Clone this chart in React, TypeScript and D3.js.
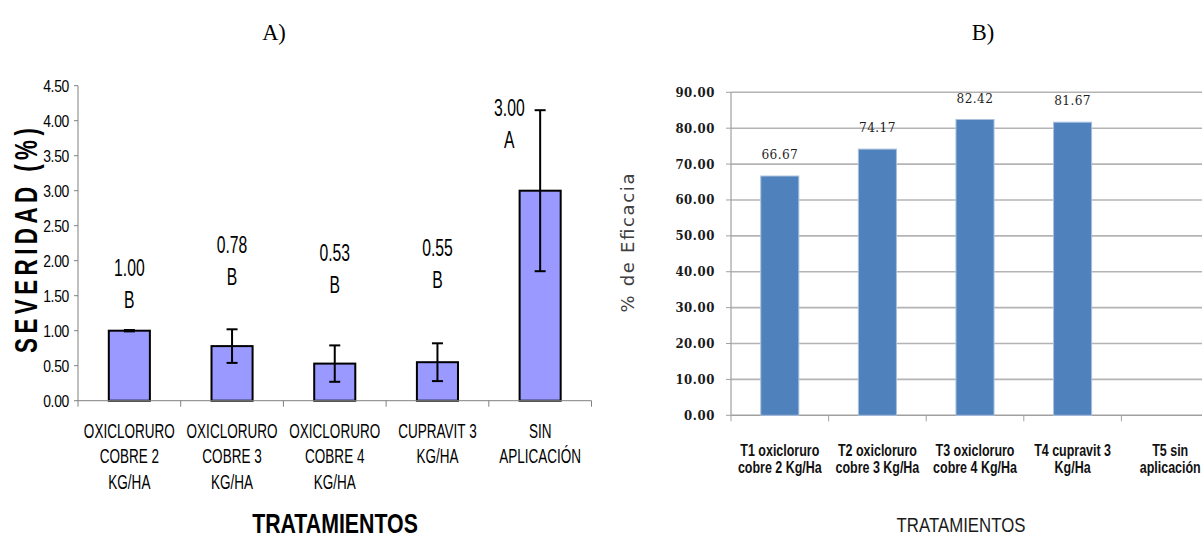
import React from "react";
import * as d3 from "d3";

// ---------- Chart A data ----------
const categoriesA = [
  "OXICLORURO COBRE 2 KG/HA",
  "OXICLORURO COBRE 3 KG/HA",
  "OXICLORURO COBRE 4 KG/HA",
  "CUPRAVIT 3 KG/HA",
  "SIN APLICACIÓN",
];
const categoryLinesA = [
  ["OXICLORURO", "COBRE 2", "KG/HA"],
  ["OXICLORURO", "COBRE 3", "KG/HA"],
  ["OXICLORURO", "COBRE 4", "KG/HA"],
  ["CUPRAVIT 3", "KG/HA"],
  ["SIN", "APLICACIÓN"],
];
const severidad = [1.0, 0.78, 0.53, 0.55, 3.0];
const severidadErr = [0.01, 0.24, 0.26, 0.27, 1.15];
const severidadLetters = ["B", "B", "B", "B", "A"];
const severidadLabelLevel = [1.9, 2.23, 2.11, 2.18, 4.18];
const severidadLabelShift = [0, 0, 0, 0, -0.3];
const ticksA = [0, 0.5, 1, 1.5, 2, 2.5, 3, 3.5, 4, 4.5];

// ---------- Chart B data ----------
const categoriesB = ["T1", "T2", "T3", "T4", "T5"];
const categoryLinesB = [
  ["T1 oxicloruro", "cobre 2 Kg/Ha"],
  ["T2 oxicloruro", "cobre 3 Kg/Ha"],
  ["T3 oxicloruro", "cobre 4 Kg/Ha"],
  ["T4 cupravit 3", "Kg/Ha"],
  ["T5 sin", "aplicación"],
];
const eficacia: (number | null)[] = [66.67, 74.17, 82.42, 81.67, null];
const ticksB = [0, 10, 20, 30, 40, 50, 60, 70, 80, 90];

const SANS = "'Liberation Sans', Arial, sans-serif";
const SERIF_C = "'DejaVu Serif Condensed', 'DejaVu Serif', serif";
const NX = 0.82; // horizontal squeeze to imitate a narrow face

export default function App() {
  const xA = d3.scaleBand<string>().domain(categoriesA).range([78, 591.5]).padding(0);
  const yA = d3.scaleLinear().domain([0, 4.5]).range([400.7, 85.7]);
  const bwA = xA.bandwidth() * 0.4;

  const xB = d3.scaleBand<string>().domain(categoriesB).range([731, 731 + 5 * 97.6]).padding(0);
  const yB = d3.scaleLinear().domain([0, 90]).range([415.3, 92.3]);
  const bwB = xB.bandwidth() * 0.39;

  return (
    <svg
      width={1202}
      height={538}
      style={{ position: "absolute", left: 0, top: 0, background: "#fff" }}
    >
      <rect x={0} y={0} width={1202} height={538} fill="#fff" />
      <text x={274} y={40} textAnchor="middle" fontFamily="'Liberation Serif', 'Times New Roman', serif" fontSize={22.5}>
        A)
      </text>
      <text x={983} y={40} textAnchor="middle" fontFamily="'Liberation Serif', 'Times New Roman', serif" fontSize={22.5}>
        B)
      </text>

      {/* ================= Chart A ================= */}
      <g>
        <line x1={78} x2={78} y1={yA(4.5)} y2={yA(0)} stroke="#808080" strokeWidth={1} />
        {ticksA.map((t) => (
          <g key={t}>
            <line x1={74} x2={78} y1={yA(t)} y2={yA(t)} stroke="#808080" />
            <text
              transform={`translate(69,${yA(t) + 6}) scale(${NX},1)`}
              textAnchor="end"
              fontFamily={SANS}
              fontSize={17}
              letterSpacing={-0.4}
              fill="#000"
            >
              {t.toFixed(2)}
            </text>
          </g>
        ))}
        <text
          transform={`translate(36.5,240.5) rotate(-90) scale(0.8,1.12)`}
          textAnchor="middle"
          fontFamily={SANS}
          fontWeight="bold"
          fontSize={28}
          textLength={281}
          lengthAdjust="spacing"
        >
          SEVERIDAD (%)
        </text>

        {categoriesA.map((c, i) => {
          const cx = (xA(c) as number) + xA.bandwidth() / 2;
          return (
            <rect
              key={c}
              x={cx - bwA / 2}
              y={yA(severidad[i])}
              width={bwA}
              height={yA(0) - yA(severidad[i])}
              fill="#9999ff"
              stroke="#000"
              strokeWidth={2}
            />
          );
        })}
        <line x1={78} x2={591.5} y1={yA(0)} y2={yA(0)} stroke="#808080" strokeWidth={1} />
        {[...categoriesA.map((c) => xA(c) as number), 591.5].map((x, i) => (
          <line key={i} x1={x} x2={x} y1={yA(0)} y2={yA(0) + 6} stroke="#808080" />
        ))}
        {categoriesA.map((c, i) => {
          const cx = (xA(c) as number) + xA.bandwidth() / 2;
          const hi = yA(severidad[i] + severidadErr[i]);
          const lo = yA(severidad[i] - severidadErr[i]);
          return (
            <g key={c} stroke="#000" strokeWidth={2}>
              <line x1={cx} x2={cx} y1={hi} y2={lo} />
              <line x1={cx - 5.5} x2={cx + 5.5} y1={hi} y2={hi} />
              <line x1={cx - 5.5} x2={cx + 5.5} y1={lo} y2={lo} />
            </g>
          );
        })}
        {categoriesA.map((c, i) => {
          const cx = (xA(c) as number) + xA.bandwidth() * (0.5 + severidadLabelShift[i]);
          const cy = yA(severidadLabelLevel[i]);
          return (
            <g key={c} fontFamily={SANS} fontSize={19.2} textAnchor="middle">
              <text transform={`translate(${cx},${cy + 8.3}) scale(${NX},1.21)`}>{severidad[i].toFixed(2)}</text>
              <text transform={`translate(${cx},${cy + 40.3}) scale(${NX},1.21)`}>{severidadLetters[i]}</text>
            </g>
          );
        })}
        {categoriesA.map((c, i) => {
          const cx = (xA(c) as number) + xA.bandwidth() / 2;
          return (
            <g key={c} fontFamily={SANS} fontSize={16.5} textAnchor="middle">
              {categoryLinesA[i].map((ln, j) => (
                <text key={j} transform={`translate(${cx},${438 + j * 25.3}) scale(${NX},1.25)`}>
                  {ln}
                </text>
              ))}
            </g>
          );
        })}
        <text
          transform={`translate(335,533) scale(${NX},1.06)`}
          textAnchor="middle"
          fontFamily={SANS}
          fontWeight="bold"
          fontSize={26}
        >
          TRATAMIENTOS
        </text>
      </g>

      {/* ================= Chart B ================= */}
      <g>
        {ticksB.map((t) => (
          <line
            key={t}
            x1={731}
            x2={1202}
            y1={yB(t)}
            y2={yB(t)}
            stroke={t === 0 ? "#a0a0a0" : "#b4b4b4"}
            strokeWidth={1.6}
          />
        ))}
        <line x1={731} x2={731} y1={yB(90)} y2={yB(0)} stroke="#a0a0a0" strokeWidth={1.2} />
        {ticksB.map((t) => (
          <g key={t}>
            <line x1={726} x2={731} y1={yB(t)} y2={yB(t)} stroke="#a0a0a0" />
            <text
              x={715}
              y={yB(t) + 4.5}
              textAnchor="end"
              fontFamily={SERIF_C}
              fontWeight="bold"
              fontSize={13}
              letterSpacing={0.6}
              fill="#1a1a1a"
            >
              {t.toFixed(2)}
            </text>
          </g>
        ))}
        {categoriesB.map((c) => (
          <line
            key={c}
            x1={xB(c) as number}
            x2={xB(c) as number}
            y1={yB(0)}
            y2={yB(0) + 6}
            stroke="#a0a0a0"
          />
        ))}
        {categoriesB.map((c, i) => {
          const v = eficacia[i];
          if (v == null) return null;
          const cx = (xB(c) as number) + xB.bandwidth() / 2;
          return (
            <g key={c}>
              <rect
                x={cx - bwB / 2}
                y={yB(v)}
                width={bwB}
                height={yB(0) - yB(v)}
                fill="#4f81bd"
                stroke="#a9c0de"
                strokeWidth={1}
              />
              <text
                x={cx}
                y={yB(v) - 17}
                textAnchor="middle"
                fontFamily={SERIF_C}
                fontSize={13.5}
                letterSpacing={0.4}
                fill="#1f1f1f"
              >
                {v.toFixed(2)}
              </text>
            </g>
          );
        })}
        <text
          transform={`translate(634,243) rotate(-90)`}
          textAnchor="middle"
          fontFamily="'DejaVu Sans', Verdana, sans-serif"
          fontSize={18}
          textLength={139}
          lengthAdjust="spacing"
          fill="#404040"
        >
          % de Eficacia
        </text>
        {categoriesB.map((c, i) => {
          const cx = (xB(c) as number) + xB.bandwidth() / 2;
          return (
            <g key={c} fontFamily={SANS} fontWeight="bold" fontSize={16} textAnchor="middle" fill="#111">
              {categoryLinesB[i].map((ln, j) => (
                <text key={j} transform={`translate(${cx},${455.5 + j * 17.5}) scale(0.78,1.05)`}>
                  {ln}
                </text>
              ))}
            </g>
          );
        })}
        <text
          transform={`translate(961,532) scale(${NX},1)`}
          textAnchor="middle"
          fontFamily={SANS}
          fontSize={20.5}
          fill="#1a1a1a"
        >
          TRATAMIENTOS
        </text>
      </g>
    </svg>
  );
}
